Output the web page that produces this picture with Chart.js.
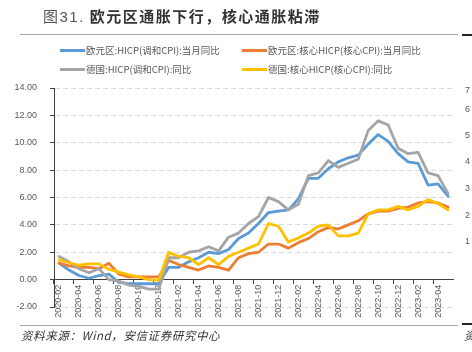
<!DOCTYPE html>
<html><head><meta charset="utf-8">
<script src="https://cdn.jsdelivr.net/npm/chart.js@4.4.1/dist/chart.umd.min.js"></script>
<style>
html,body{margin:0;padding:0;background:#fff;}
#wrap{position:relative;width:472px;height:352px;overflow:hidden;font-family:"Noto Sans CJK SC","Liberation Sans",sans-serif;background:#fff;}
#c{position:absolute;left:0;top:0;}
.title{position:absolute;left:43px;top:5px;font-size:15px;letter-spacing:1.5px;color:#333;white-space:nowrap;line-height:22px;}
.title .n{font-weight:normal;color:#555;font-family:"Liberation Sans","Noto Sans CJK SC",sans-serif;}
.title .b{font-weight:bold;}
.rule{position:absolute;height:1px;background:#a6a6a6;}
.blk{position:absolute;height:2px;background:#222;}
.lg{position:absolute;font-size:9.5px;color:#595959;white-space:nowrap;line-height:12px;}
.lg i{display:inline-block;width:25px;height:3px;vertical-align:middle;margin-right:1px;position:relative;top:-1px;}
.foot{position:absolute;left:21px;top:327px;font-size:11.5px;font-style:italic;color:#333;letter-spacing:0.6px;white-space:nowrap;line-height:16px;}
.edge{position:absolute;left:465px;font-size:9px;color:#595959;font-family:"Liberation Sans",sans-serif;line-height:10px;}
</style>
</head><body>
<div id="wrap">
<canvas id="c" width="472" height="352"></canvas>
<div class="title"><span class="n">图31.</span> <span class="b">欧元区通胀下行，核心通胀粘滞</span></div>
<div class="rule" style="left:20px;top:34px;width:438px;"></div>
<div class="blk" style="left:462px;top:34px;width:10px;"></div>
<div id="legend"></div>
<div class="rule" style="left:20px;top:325px;width:438px;"></div>
<div class="blk" style="left:462px;top:323px;width:10px;"></div>
<div class="foot">资料来源：Wind，安信证券研究中心</div>
<div class="foot" style="left:464px;font-style:italic;">资</div>
<div class="edge" style="top:85px;">7</div>
<div class="edge" style="top:104px;">6</div>
<div class="edge" style="top:130px;">5</div>
<div class="edge" style="top:156px;">4</div>
<div class="edge" style="top:183px;">3</div>
<div class="edge" style="top:210px;">2</div>
<div class="edge" style="top:236px;">1</div>
</div>
<script>
const months = ["2020-02","2020-03","2020-04","2020-05","2020-06","2020-07","2020-08","2020-09","2020-10","2020-11","2020-12",
"2021-01","2021-02","2021-03","2021-04","2021-05","2021-06","2021-07","2021-08","2021-09","2021-10","2021-11","2021-12",
"2022-01","2022-02","2022-03","2022-04","2022-05","2022-06","2022-07","2022-08","2022-09","2022-10","2022-11","2022-12",
"2023-01","2023-02","2023-03","2023-04","2023-05"];
const ezHicp = [1.2,0.7,0.3,0.1,0.3,0.4,-0.2,-0.3,-0.3,-0.3,-0.3,
0.9,0.9,1.3,1.6,2.0,1.9,2.2,3.0,3.4,4.1,4.9,5.0,
5.1,5.9,7.4,7.4,8.1,8.6,8.9,9.1,9.9,10.6,10.1,9.2,
8.6,8.5,6.9,7.0,6.1];
const ezCore = [1.2,1.0,0.9,0.9,0.8,1.2,0.4,0.2,0.2,0.2,0.2,
1.4,1.1,0.9,0.7,1.0,0.9,0.7,1.6,1.9,2.0,2.6,2.6,
2.3,2.7,3.0,3.5,3.8,3.7,4.0,4.3,4.8,5.0,5.0,5.2,
5.3,5.6,5.7,5.6,5.3];
const deHicp = [1.7,1.3,0.8,0.5,0.8,0.0,-0.1,-0.4,-0.5,-0.7,-0.7,
1.6,1.6,2.0,2.1,2.4,2.1,3.1,3.4,4.1,4.6,6.0,5.7,
5.1,5.5,7.6,7.8,8.7,8.2,8.5,8.8,10.9,11.6,11.3,9.6,
9.2,9.3,7.8,7.6,6.3];
const deCore = [1.45,1.25,1.05,1.15,1.15,0.75,0.55,0.35,0.2,0.0,-0.05,
2.0,1.7,1.6,1.1,1.6,1.1,1.7,2.0,2.3,2.6,4.1,3.9,
2.75,3.05,3.4,3.9,4.0,3.2,3.2,3.4,4.8,5.1,5.1,5.35,
5.1,5.35,5.85,5.55,5.1];
const seriesNames = ["欧元区:HICP(调和CPI):当月同比","欧元区:核心HICP(核心CPI):当月同比","德国:HICP(调和CPI):同比","德国:核心HICP(核心CPI):同比"];
const seriesColors = ["#5B9BD5","#ED7D31","#A5A5A5","#FFC000"];
const yTicks = [-2,0,2,4,6,8,10,12,14];

// legend (2x2 grid)
const lgPos = [[60,44],[242,44],[60,63],[242,63]];
const lg = document.getElementById('legend');
seriesNames.forEach((n,i)=>{
  const d = document.createElement('div');
  d.className='lg';
  d.style.left = lgPos[i][0]+'px';
  d.style.top = lgPos[i][1]+'px';
  d.innerHTML = '<i style="background:'+seriesColors[i]+'"></i>'+n;
  lg.appendChild(d);
});

const tickFont = {family:'"Liberation Sans Narrow","Liberation Sans",sans-serif', size:9};
const values = [ezHicp, ezCore, deHicp, deCore];
new Chart(document.getElementById('c'), {
  type:'line',
  data:{
    labels: months,
    datasets: values.map((v,i)=>({
      label: seriesNames[i], data: v, borderColor: seriesColors[i], backgroundColor: seriesColors[i],
      borderWidth: 2.8, pointRadius: 0, tension: 0, fill:false, order: 4-i,
      borderCapStyle:'round', borderJoinStyle:'round'
    }))
  },
  options:{
    responsive:false, animation:false, devicePixelRatio:1,
    layout:{padding:{left:0,right:19,top:88,bottom:45}},
    plugins:{legend:{display:false}, tooltip:{enabled:false}},
    scales:{
      x:{
        type:'category', position:{y:0}, offset:true,
        grid:{drawOnChartArea:false, offset:true, tickLength:4, lineWidth:1,
              color:(ctx)=> (ctx.index%2===0 ? '#404040' : 'rgba(0,0,0,0)')},
        border:{color:'#404040', width:1},
        ticks:{autoSkip:false, minRotation:90, maxRotation:90, padding:1, color:'#595959', font:tickFont,
               callback:(v,i)=> (i%2===0 ? months[i] : '')}
      },
      y:{
        min:yTicks[0], max:yTicks[yTicks.length-1],
        afterFit:(s)=>{ s.width = 54; },
        afterBuildTicks:(s)=>{ s.ticks = yTicks.map(v=>({value:v})); },
        grid:{color:'#d9d9d9', tickColor:'#404040', tickLength:4, lineWidth:1},
        border:{color:'#404040', width:1, dash:[5,3]},
        ticks:{padding:13, color:'#595959', font:tickFont, callback:(v)=> Number(v).toFixed(2)}
      }
    }
  }
});
</script>
</body></html>
